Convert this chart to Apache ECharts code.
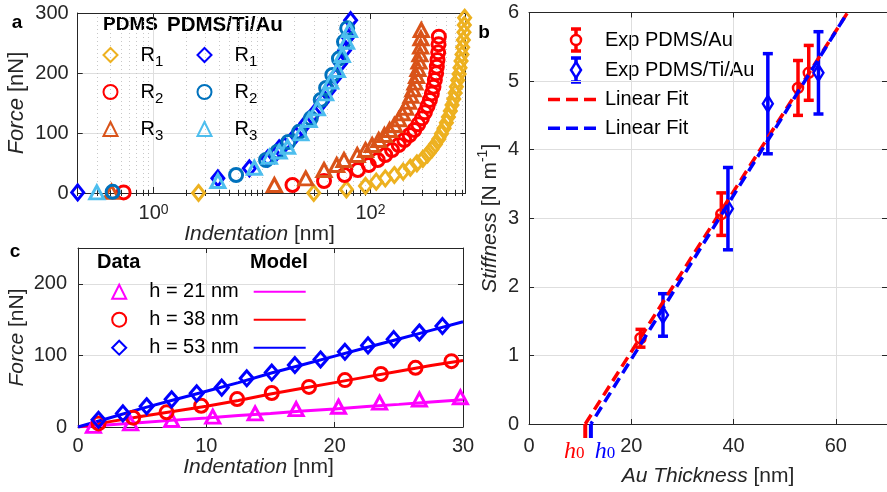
<!DOCTYPE html>
<html>
<head>
<meta charset="utf-8">
<script src="https://cdn.jsdelivr.net/npm/echarts@6/dist/echarts.min.js"></script>
<style>
html, body { margin: 0; padding: 0; background: #fff; }
#main { width: 887px; height: 492px; }
</style>
</head>
<body>
<div id="main"></div>
<script>
var FONT = 'Liberation Sans, Arial, Helvetica, sans-serif';
var AX = '#262626';
var GRIDC = '#dedede';

// ---------- panel a : indentation [nm] vs force [nN] (log x) ----------
var aPdmsR1 = [[2.6,0],[30,0],[60,6],[90,11.7],[113,18.9],[137,24.4],[166,30],[200,35.6],[233,42.2],[268,49.4],[304,56.7],[336,64.4],[368,72.8],[397,81.1],[427,90],[451,98.9],[477,107.8],[501,117.2],[523,126.7],[545,136.7],[565,146.7],[586,156.7],[603,166.7],[619,177.2],[637,187.8],[656,198.3],[669,208.9],[684,220],[698,231],[708,242.8],[718,255],[728,267.8],[733,280],[738,292]];
var aPdmsR2 = [[0.53,1],[19.1,13.3],[37.3,20],[57.7,30],[76.5,38.3],[96.5,46.7],[116.7,55],[137,63.3],[158,71.7],[182,80],[205,88.3],[229.5,96.7],[253.5,105],[275.5,114.4],[298,124.4],[317.6,134.4],[336,145],[353,155],[368,166],[381,177],[392,188.3],[403,199.4],[409,210.6],[415,221.7],[421,234.4],[424,247.8],[427,260.6]];
var aPdmsR3 = [[0.41,2],[13,13.3],[25.3,24.4],[37.3,38.3],[48.8,46.7],[57,55],[75.5,63.3],[90,71.7],[103.6,80],[119,88.3],[134.4,96.7],[150,105],[166,113.3],[182,122.8],[196.7,132.8],[211,142.2],[224.6,152.2],[236,162.2],[246.6,172.8],[257,183.9],[266,195],[273.8,206.7],[280,218.9],[285.8,231],[290,243.9],[292,257.8],[294,271.7]];
var aTiR1 = [[0.2,1],[3.92,24.4],[7.65,41.1],[11.3,57.8],[13,63],[14.4,74.4],[16,80],[20.5,96.7],[25.3,116],[30.2,132.8],[36,152],[41.5,171.7],[47.7,193.9],[53,216],[57.7,238],[62,260],[65.6,288]];
var aTiR2 = [[0.42,2],[5.77,30],[10.9,55],[13.9,68.9],[17.5,85],[22,102],[28.2,124.4],[34.8,155],[39,175],[44.5,196.7],[51.2,224],[57,252],[61,274.4]];
var aTiR3 = [[0.3,1],[3.92,20],[8.5,42],[11.7,60.5],[14.4,68.9],[17.2,77],[22.8,99.4],[27.2,121.7],[32.4,141],[38.6,166],[43,185.6],[49.5,205],[55,230],[60.2,252],[64,271.7]];
var aMajorTicks = [1, 100];
var aMinorTicks = [0.2,0.3,0.4,0.5,0.6,0.7,0.8,0.9,2,3,4,5,6,7,8,9,10,20,30,40,50,60,70,80,90,200,300,400,500,600,700];
var aXRange = [0.2, 750];

// ---------- panel b : stiffness vs Au thickness ----------
var bxAu = [21.8, 37.6, 52.6, 54.7];
var byAu = [1.25, 3.06, 4.9, 5.12];
var beAu = [0.13, 0.31, 0.4, 0.4];
var bxTi = [26.2, 38.9, 46.7, 56.6];
var byTi = [1.59, 3.14, 4.67, 5.12];
var beTi = [0.31, 0.6, 0.73, 0.6];
var fitAuX = [11.0, 62.3], fitAuY = [0, 6];
var fitTiX = [12.1, 62.3], fitTiY = [0, 6];
var h0X = [11.0, 12.1];
var bXTicks = [0, 20, 40, 60];

// ---------- panel c : force vs indentation, data + model ----------
var cX21 = [1.2, 4.1, 7.3, 10.5, 13.8, 17.0, 20.3, 23.5, 26.6, 29.8];
var cF21 = [1.5, 5, 9.8, 14.5, 19, 25, 28.3, 34, 38.5, 41.5];
var cX38 = [1.6, 4.3, 6.9, 9.6, 12.4, 15.1, 18.0, 20.8, 23.6, 26.3, 29.1];
var cF38 = [5, 13, 20.5, 29.7, 39, 47.5, 56, 65.5, 74, 82.7, 92];
var cX53 = [1.6, 3.5, 5.35, 7.3, 9.25, 11.2, 13.15, 15.1, 16.9, 18.9, 20.8, 22.6, 24.6, 26.6, 28.4];
var cF53 = [10, 19, 29, 38.6, 47, 55, 68, 76, 86.5, 94.4, 105, 114, 122.7, 132, 141];
var cModelX = [0, 2.5, 5, 7.5, 10, 12.5, 15, 17.5, 20, 22.5, 25, 27.5, 30];
var cM21 = [0, 3.2, 6.4, 9.6, 12.7, 15.9, 19, 22.2, 25.3, 28.5, 31.6, 34.8, 38];
var cM38 = [0, 7.5, 15, 22, 29, 37, 46, 54, 62, 70, 78, 86, 93];
var cM53 = [0, 13, 26, 38, 50, 62, 75, 87, 99, 111, 123, 135, 147];
var cYTicks = [0, 100, 200];

function lg(v) { return Math.log10(v); }
function logPts(arr) { return arr.map(function (p) { return [lg(p[0]), p[1]]; }); }
function zip(xs, ys) { return xs.map(function (x, i) { return [x, ys[i]]; }); }

var myChart = echarts.init(document.getElementById('main'));

var nameRich = {
    i: { fontStyle: 'italic', fontSize: 21, fontFamily: FONT, color: AX },
    n: { fontSize: 21, fontFamily: FONT, color: AX }
};

function tickAxis(extra) {
    var o = {
        type: 'value',
        axisLine: { show: true, onZero: false, lineStyle: { color: AX, width: 1 } },
        axisTick: { show: true, inside: true, length: 5, lineStyle: { color: AX } },
        axisLabel: { show: false },
        splitLine: { show: false }
    };
    for (var k in extra) o[k] = extra[k];
    return o;
}

var hollow = function (c, w) { return { color: 'none', borderColor: c, borderWidth: w, opacity: 1 }; };

function errRender(color) {
    return function (params, api) {
        var x = api.value(0), y = api.value(1), e = api.value(2);
        var hi = api.coord([x, y + e]), lo = api.coord([x, y - e]);
        var st = { stroke: color, lineWidth: 3.5 };
        return { type: 'group', children: [
            { type: 'line', shape: { x1: hi[0], y1: hi[1], x2: lo[0], y2: lo[1] }, style: st },
            { type: 'line', shape: { x1: hi[0] - 5, y1: hi[1], x2: hi[0] + 5, y2: hi[1] }, style: st },
            { type: 'line', shape: { x1: lo[0] - 5, y1: lo[1], x2: lo[0] + 5, y2: lo[1] }, style: st }
        ] };
    };
}

var h0Colors = ['#ff0000', '#0000ff'];
var h0Dx = [-11, 14];

var rFmt = function (name) { return '{r|R}{s|' + name.slice(-1) + '}'; };
var rRich = {
    r: { fontSize: 20, fontFamily: FONT, color: '#000', lineHeight: 28, verticalAlign: 'middle', padding: [0, 0, 0, 18] },
    s: { fontSize: 15, fontFamily: FONT, color: '#000', lineHeight: 15, verticalAlign: 'bottom' }
};

var option = {
    animation: false,
    textStyle: { fontFamily: FONT },
    grid: [
        { left: 77.7, top: 13, width: 387.7, height: 180 },
        { left: 529, top: 12.5, width: 360.5, height: 414.5 },
        { left: 78, top: 248, width: 385, height: 179 }
    ],
    xAxis: [
        // 0: panel a bottom, majors
        tickAxis({ gridIndex: 0, position: 'bottom', min: lg(aXRange[0]), max: lg(aXRange[1]),
            axisTick: { show: true, inside: true, length: 6, lineStyle: { color: AX }, customValues: aMajorTicks.map(lg) },
            axisLabel: { show: true, margin: 10, customValues: aMajorTicks.map(lg),
                formatter: function (v) { return '{b|10}{p|' + Math.round(v) + '}'; },
                rich: {
                    b: { fontSize: 20, fontFamily: FONT, color: AX, verticalAlign: 'bottom', lineHeight: 20, padding: [8, 0, 0, 0] },
                    p: { fontSize: 14, fontFamily: FONT, color: AX, verticalAlign: 'top', lineHeight: 14 }
                } },
            splitLine: { show: true, lineStyle: { color: GRIDC, width: 1 } },
            name: '{i|Indentation}{n| [nm]}', nameLocation: 'middle', nameGap: 20,
            nameTextStyle: { rich: nameRich, padding: [0, 24, 0, 0] } }),
        // 1: panel a bottom, minors + dotted grid
        tickAxis({ gridIndex: 0, position: 'bottom', min: lg(aXRange[0]), max: lg(aXRange[1]),
            axisLine: { show: false },
            axisTick: { show: true, inside: true, length: 3, lineStyle: { color: AX }, customValues: aMinorTicks.map(lg) },
            splitLine: { show: true, lineStyle: { color: '#c8c8c8', width: 1, type: [1, 3] } } }),
        // 2,3: panel a top
        tickAxis({ gridIndex: 0, position: 'top', min: lg(aXRange[0]), max: lg(aXRange[1]),
            axisTick: { show: true, inside: true, length: 6, lineStyle: { color: AX }, customValues: aMajorTicks.map(lg) } }),
        tickAxis({ gridIndex: 0, position: 'top', min: lg(aXRange[0]), max: lg(aXRange[1]), axisLine: { show: false },
            axisTick: { show: true, inside: true, length: 3, lineStyle: { color: AX }, customValues: aMinorTicks.map(lg) } }),
        // 4: panel b bottom
        tickAxis({ gridIndex: 1, position: 'bottom', min: 0, max: 70,
            axisTick: { show: true, inside: true, length: 5, lineStyle: { color: AX }, customValues: bXTicks },
            axisLabel: { show: true, margin: 12, customValues: bXTicks, color: AX, fontSize: 20, fontFamily: FONT },
            splitLine: { show: true, lineStyle: { color: GRIDC, width: 1 } },
            name: '{i|Au Thickness}{n| [nm]}', nameLocation: 'middle', nameGap: 42,
            nameTextStyle: { rich: nameRich } }),
        // 5: panel b top
        tickAxis({ gridIndex: 1, position: 'top', min: 0, max: 70,
            axisTick: { show: true, inside: true, length: 5, lineStyle: { color: AX }, customValues: bXTicks } }),
        // 6: panel c bottom
        tickAxis({ gridIndex: 2, position: 'bottom', min: 0, max: 30, interval: 10,
            axisLabel: { show: true, margin: 9, color: AX, fontSize: 20, fontFamily: FONT },
            splitLine: { show: true, lineStyle: { color: GRIDC, width: 1 } },
            name: '{i|Indentation}{n| [nm]}', nameLocation: 'middle', nameGap: 29,
            nameTextStyle: { rich: nameRich, padding: [0, 24, 0, 0] } }),
        // 7: panel c top
        tickAxis({ gridIndex: 2, position: 'top', min: 0, max: 30, interval: 10 })
    ],
    yAxis: [
        // 0,1: panel a
        tickAxis({ gridIndex: 0, position: 'left', min: 0, max: 300, interval: 100,
            axisLabel: { show: true, margin: 9, color: AX, fontSize: 20, fontFamily: FONT },
            splitLine: { show: true, lineStyle: { color: GRIDC, width: 1 } },
            name: '{i|Force}{n| [nN]}', nameLocation: 'middle', nameGap: 50, nameRotate: 90,
            nameTextStyle: { rich: { i: { fontStyle: 'italic', fontSize: 22, fontFamily: FONT, color: AX }, n: { fontSize: 22, fontFamily: FONT, color: AX } } } }),
        tickAxis({ gridIndex: 0, position: 'right', min: 0, max: 300, interval: 100 }),
        // 2,3: panel b
        tickAxis({ gridIndex: 1, position: 'left', min: 0, max: 6, interval: 1,
            axisLabel: { show: true, margin: 10, color: AX, fontSize: 20, fontFamily: FONT },
            splitLine: { show: true, lineStyle: { color: GRIDC, width: 1 } },
            name: '{i|Stiffness}{n| [N m}{s|-1}{n|]}', nameLocation: 'middle', nameGap: 27, nameRotate: 90,
            nameTextStyle: { rich: {
                i: { fontStyle: 'italic', fontSize: 21, fontFamily: FONT, color: AX, verticalAlign: 'middle', lineHeight: 21 },
                n: { fontSize: 21, fontFamily: FONT, color: AX, verticalAlign: 'middle', lineHeight: 21 },
                s: { fontSize: 14, fontFamily: FONT, color: AX, verticalAlign: 'middle', lineHeight: 14, padding: [0, 0, 14, 0] }
            } } }),
        tickAxis({ gridIndex: 1, position: 'right', min: 0, max: 6, interval: 1 }),
        // 4,5: panel c
        tickAxis({ gridIndex: 2, position: 'left', min: 0, max: 250,
            axisTick: { show: true, inside: true, length: 5, lineStyle: { color: AX }, customValues: cYTicks },
            axisLabel: { show: true, margin: 11, customValues: cYTicks, color: AX, fontSize: 20, fontFamily: FONT },
            splitLine: { show: true, lineStyle: { color: GRIDC, width: 1 } },
            name: '{i|Force}{n| [nN]}', nameLocation: 'middle', nameGap: 50, nameRotate: 90,
            nameTextStyle: { rich: nameRich } }),
        tickAxis({ gridIndex: 2, position: 'right', min: 0, max: 250,
            axisTick: { show: true, inside: true, length: 5, lineStyle: { color: AX }, customValues: cYTicks } })
    ],
    legend: [
        { data: ['PDMS R1', 'PDMS R2', 'PDMS R3'], orient: 'vertical', left: 101, top: 45, padding: 0,
          itemWidth: 14, itemHeight: 14, itemGap: 13, selectedMode: false, formatter: rFmt,
          textStyle: { rich: rRich } },
        { data: ['Ti R1', 'Ti R2', 'Ti R3'], orient: 'vertical', left: 195, top: 45, padding: 0,
          itemWidth: 14, itemHeight: 14, itemGap: 13, selectedMode: false, formatter: rFmt,
          textStyle: { rich: rRich } },
        { data: ['h = 21 nm', 'h = 38 nm', 'h = 53 nm'], orient: 'vertical', left: 109.7, top: 281.7, padding: 0,
          itemWidth: 14, itemHeight: 14, itemGap: 8, selectedMode: false,
          formatter: function (n) { return '{t|' + n + '}'; },
          textStyle: { rich: { t: { fontSize: 20, fontFamily: FONT, color: '#000', lineHeight: 24, padding: [0, 0, 0, 18] } } } },
        { data: ['m21', 'm38', 'm53'], orient: 'vertical', left: 252.7, top: 281.7, padding: 0,
          itemWidth: 52, itemHeight: 14, itemGap: 8, selectedMode: false,
          itemStyle: { opacity: 0 },
          formatter: function () { return '{t| }'; },
          textStyle: { rich: { t: { fontSize: 20, fontFamily: FONT, color: '#000', lineHeight: 24 } } } }
    ],
    graphic: [
        { type: 'text', x: 17, y: 23, style: { text: 'a', fontSize: 19, fontWeight: 'bold', fontFamily: FONT, fill: '#000', align: 'center', verticalAlign: 'middle' } },
        { type: 'text', x: 484, y: 33, style: { text: 'b', fontSize: 19, fontWeight: 'bold', fontFamily: FONT, fill: '#000', align: 'center', verticalAlign: 'middle' } },
        { type: 'text', x: 15, y: 252, style: { text: 'c', fontSize: 19, fontWeight: 'bold', fontFamily: FONT, fill: '#000', align: 'center', verticalAlign: 'middle' } },
        { type: 'text', x: 103, y: 25, style: { text: 'PDMS', fontSize: 19, fontWeight: 'bold', fontFamily: FONT, fill: '#000', align: 'left', verticalAlign: 'middle' } },
        { type: 'text', x: 167, y: 25, style: { text: 'PDMS/Ti/Au', fontSize: 20.5, fontWeight: 'bold', fontFamily: FONT, fill: '#000', align: 'left', verticalAlign: 'middle' } },
        { type: 'text', x: 97, y: 262, style: { text: 'Data', fontSize: 20, fontWeight: 'bold', fontFamily: FONT, fill: '#000', align: 'left', verticalAlign: 'middle' } },
        { type: 'text', x: 250, y: 262, style: { text: 'Model', fontSize: 20, fontWeight: 'bold', fontFamily: FONT, fill: '#000', align: 'left', verticalAlign: 'middle' } },
        // panel b legend
        { type: 'group', children: [
            { type: 'line', shape: { x1: 576, y1: 29, x2: 576, y2: 51 }, style: { stroke: '#ff0000', lineWidth: 3.5 } },
            { type: 'line', shape: { x1: 571, y1: 29, x2: 581, y2: 29 }, style: { stroke: '#ff0000', lineWidth: 3.5 } },
            { type: 'line', shape: { x1: 571, y1: 51, x2: 581, y2: 51 }, style: { stroke: '#ff0000', lineWidth: 3.5 } },
            { type: 'circle', shape: { cx: 576, cy: 40, r: 5 }, style: { stroke: '#ff0000', lineWidth: 2.5, fill: '#fff' } },
            { type: 'text', x: 605, y: 40, style: { text: 'Exp PDMS/Au', fontSize: 20, fontFamily: FONT, fill: '#000', align: 'left', verticalAlign: 'middle' } },
            { type: 'line', shape: { x1: 576, y1: 58, x2: 576, y2: 82 }, style: { stroke: '#0000ff', lineWidth: 3.5 } },
            { type: 'line', shape: { x1: 571, y1: 58, x2: 581, y2: 58 }, style: { stroke: '#0000ff', lineWidth: 3.5 } },
            { type: 'line', shape: { x1: 571, y1: 82, x2: 581, y2: 82 }, style: { stroke: '#0000ff', lineWidth: 3.5 } },
            { type: 'polygon', shape: { points: [[576, 62], [581, 70], [576, 78], [571, 70]] }, style: { stroke: '#0000ff', lineWidth: 2.5, fill: '#fff' } },
            { type: 'text', x: 605, y: 70, style: { text: 'Exp PDMS/Ti/Au', fontSize: 20, fontFamily: FONT, fill: '#000', align: 'left', verticalAlign: 'middle' } },
            { type: 'line', shape: { x1: 548, y1: 99.5, x2: 602, y2: 99.5 }, style: { stroke: '#ff0000', lineWidth: 3.5, lineDash: [12, 6] } },
            { type: 'text', x: 605, y: 99.5, style: { text: 'Linear Fit', fontSize: 20, fontFamily: FONT, fill: '#000', align: 'left', verticalAlign: 'middle' } },
            { type: 'line', shape: { x1: 548, y1: 128.3, x2: 602, y2: 128.3 }, style: { stroke: '#0000ff', lineWidth: 3.5, lineDash: [12, 6] } },
            { type: 'text', x: 605, y: 128.3, style: { text: 'Linear Fit', fontSize: 20, fontFamily: FONT, fill: '#000', align: 'left', verticalAlign: 'middle' } }
        ] }
    ],
    series: [
        // panel a
        { name: 'PDMS R1', type: 'scatter', xAxisIndex: 0, yAxisIndex: 0, data: logPts(aPdmsR1), symbol: 'diamond', symbolSize: [12, 15], itemStyle: hollow('#EDB120', 3) },
        { name: 'PDMS R2', type: 'scatter', xAxisIndex: 0, yAxisIndex: 0, data: logPts(aPdmsR2), symbol: 'circle', symbolSize: 13, itemStyle: hollow('#FF0000', 3) },
        { name: 'PDMS R3', type: 'scatter', xAxisIndex: 0, yAxisIndex: 0, data: logPts(aPdmsR3), symbol: 'triangle', symbolSize: [14, 13], itemStyle: hollow('#D95319', 3) },
        { name: 'Ti R1', type: 'scatter', xAxisIndex: 0, yAxisIndex: 0, data: logPts(aTiR1), symbol: 'diamond', symbolSize: [12, 15], itemStyle: hollow('#0000FF', 3) },
        { name: 'Ti R2', type: 'scatter', xAxisIndex: 0, yAxisIndex: 0, data: logPts(aTiR2), symbol: 'circle', symbolSize: 13, itemStyle: hollow('#0072BD', 3) },
        { name: 'Ti R3', type: 'scatter', xAxisIndex: 0, yAxisIndex: 0, data: logPts(aTiR3), symbol: 'triangle', symbolSize: [14, 13], itemStyle: hollow('#4DBEEE', 3) },
        // panel b
        { type: 'custom', xAxisIndex: 4, yAxisIndex: 2, renderItem: errRender('#ff0000'),
          data: bxAu.map(function (x, i) { return [x, byAu[i], beAu[i]]; }), encode: { x: 0, y: 1 } },
        { type: 'scatter', xAxisIndex: 4, yAxisIndex: 2, data: zip(bxAu, byAu), symbol: 'circle', symbolSize: 10, itemStyle: hollow('#ff0000', 2.5) },
        { type: 'custom', xAxisIndex: 4, yAxisIndex: 2, renderItem: errRender('#0000ff'),
          data: bxTi.map(function (x, i) { return [x, byTi[i], beTi[i]]; }), encode: { x: 0, y: 1 } },
        { type: 'scatter', xAxisIndex: 4, yAxisIndex: 2, data: zip(bxTi, byTi), symbol: 'diamond', symbolSize: [10, 16], itemStyle: hollow('#0000ff', 2.5) },
        { type: 'line', xAxisIndex: 4, yAxisIndex: 2, data: zip(fitAuX, fitAuY), symbol: 'none',
          lineStyle: { color: '#ff0000', width: 3.5, type: [11, 6] } },
        { type: 'line', xAxisIndex: 4, yAxisIndex: 2, data: zip(fitTiX, fitTiY), symbol: 'none',
          lineStyle: { color: '#0000ff', width: 3.5, type: [11, 6], dashOffset: 8 } },
        { type: 'custom', xAxisIndex: 4, yAxisIndex: 2, clip: false, z: 5,
          data: h0X.map(function (x) { return [x, 0]; }), encode: { x: 0, y: 1 },
          renderItem: function (params, api) {
              var p = api.coord([api.value(0), 0]);
              var col = h0Colors[params.dataIndex];
              return { type: 'group', children: [
                  { type: 'rect', shape: { x: p[0] - 2, y: p[1], width: 4, height: 14 }, style: { fill: col } },
                  { type: 'text', x: p[0] + h0Dx[params.dataIndex], y: p[1] + 27,
                    style: { text: '{h|h}{s|0}', fill: col, align: 'center', verticalAlign: 'middle',
                      rich: {
                          h: { fontFamily: 'Liberation Serif, serif', fontStyle: 'italic', fontSize: 24, fill: col, color: col, verticalAlign: 'top', lineHeight: 22 },
                          s: { fontFamily: 'Liberation Serif, serif', fontSize: 17, fill: col, color: col, verticalAlign: 'bottom', lineHeight: 16, padding: [10, 0, 0, 0] }
                      } } }
              ] };
          } },
        // panel c
        { name: 'h = 21 nm', type: 'scatter', xAxisIndex: 6, yAxisIndex: 4, data: zip(cX21, cF21), symbol: 'triangle', symbolSize: [14, 13], itemStyle: hollow('#FF00FF', 3), z: 3 },
        { name: 'h = 38 nm', type: 'scatter', xAxisIndex: 6, yAxisIndex: 4, data: zip(cX38, cF38), symbol: 'circle', symbolSize: 13, itemStyle: hollow('#FF0000', 3), z: 3 },
        { name: 'h = 53 nm', type: 'scatter', xAxisIndex: 6, yAxisIndex: 4, data: zip(cX53, cF53), symbol: 'diamond', symbolSize: [13, 15], itemStyle: hollow('#0000FF', 3), z: 3 },
        { name: 'm21', type: 'line', xAxisIndex: 6, yAxisIndex: 4, data: zip(cModelX, cM21), symbol: 'none', lineStyle: { color: '#FF00FF', width: 3 }, itemStyle: { color: '#FF00FF' } },
        { name: 'm38', type: 'line', xAxisIndex: 6, yAxisIndex: 4, data: zip(cModelX, cM38), symbol: 'none', lineStyle: { color: '#FF0000', width: 3 }, itemStyle: { color: '#FF0000' } },
        { name: 'm53', type: 'line', xAxisIndex: 6, yAxisIndex: 4, data: zip(cModelX, cM53), symbol: 'none', lineStyle: { color: '#0000FF', width: 3 }, itemStyle: { color: '#0000FF' } }
    ]
};

myChart.setOption(option);
</script>
</body>
</html>
